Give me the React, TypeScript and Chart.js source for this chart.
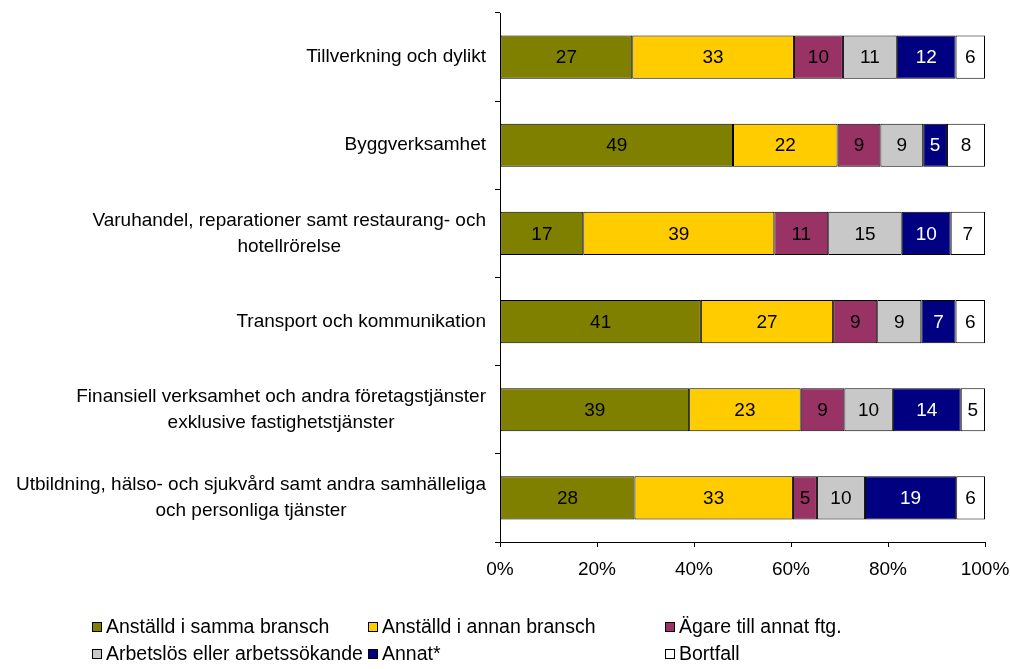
import React, { useEffect, useRef } from "react";
import { Chart, registerables } from "chart.js";

Chart.register(...registerables);

const FONT = "'Liberation Sans', Arial, sans-serif";

const categories: string[][] = [
  ["Tillverkning och dylikt"],
  ["Byggverksamhet"],
  ["Varuhandel, reparationer samt restaurang- och", "hotellrörelse"],
  ["Transport och kommunikation"],
  ["Finansiell verksamhet och andra företagstjänster", "exklusive fastighetstjänster"],
  ["Utbildning, hälso- och sjukvård samt andra samhälleliga", "och personliga tjänster"],
];

const seriesNames = [
  "Anställd i samma bransch",
  "Anställd i annan bransch",
  "Ägare till annat ftg.",
  "Arbetslös eller arbetssökande",
  "Annat*",
  "Bortfall",
];

const samma = [27, 49, 17, 41, 39, 28];
const annan = [33, 22, 39, 27, 23, 33];
const agare = [10, 9, 11, 9, 9, 5];
const arbetslos = [11, 9, 15, 9, 10, 10];
const annat = [12, 5, 10, 7, 14, 19];
const bortfall = [6, 8, 7, 6, 5, 6];

const seriesValues = [samma, annan, agare, arbetslos, annat, bortfall];
const seriesColors = ["#808000", "#FFCC00", "#993366", "#C8C8C8", "#000080", "#FFFFFF"];
const labelColors = ["#000", "#000", "#000", "#000", "#FFF", "#000"];

const xTickStep = 20;

const rowTotals = categories.map((_, i) => seriesValues.reduce((s, arr) => s + arr[i], 0));

const categoryLabelPlugin = {
  id: "categoryLabels",
  afterDraw(chart: any) {
    const ctx = chart.ctx;
    const y = chart.scales.y;
    const right = chart.chartArea.left - 14;
    ctx.save();
    ctx.font = `19px ${FONT}`;
    ctx.fillStyle = "#000";
    ctx.textAlign = "center";
    ctx.textBaseline = "middle";
    categories.forEach((lines, i) => {
      const cy = y.getPixelForValue(i);
      const maxW = Math.max(...lines.map((l) => ctx.measureText(l).width));
      const cx = right - maxW / 2;
      lines.forEach((line, j) => {
        ctx.fillText(line, cx, cy + (j - (lines.length - 1) / 2) * 26);
      });
    });
    ctx.restore();
  },
};

const valueLabelPlugin = {
  id: "valueLabels",
  afterDatasetsDraw(chart: any) {
    const ctx = chart.ctx;
    ctx.save();
    ctx.font = `19px ${FONT}`;
    ctx.textAlign = "center";
    ctx.textBaseline = "middle";
    chart.data.datasets.forEach((ds: any, di: number) => {
      const meta = chart.getDatasetMeta(di);
      meta.data.forEach((el: any, i: number) => {
        const raw = seriesValues[di][i];
        ctx.fillStyle = labelColors[di];
        ctx.fillText(String(raw), (el.x + el.base) / 2, el.y + 1);
      });
    });
    ctx.restore();
  },
};

const legendPlugin = {
  id: "customLegend",
  afterDraw(chart: any) {
    const ctx = chart.ctx;
    const cols = [92, 368, 665];
    const rows = [627, 654];
    ctx.save();
    ctx.font = `19.5px ${FONT}`;
    ctx.textAlign = "left";
    ctx.textBaseline = "middle";
    seriesNames.forEach((name, i) => {
      const x = cols[i % 3];
      const y = rows[Math.floor(i / 3)];
      ctx.fillStyle = seriesColors[i];
      ctx.fillRect(x, y - 5, 10, 10);
      ctx.strokeStyle = "#000";
      ctx.lineWidth = 1;
      ctx.strokeRect(x + 0.5, y - 4.5, 9, 9);
      ctx.fillStyle = "#000";
      ctx.fillText(name, x + 14, y + 1);
    });
    ctx.restore();
  },
};

export default function App() {
  const ref = useRef<HTMLCanvasElement | null>(null);
  useEffect(() => {
    if (!ref.current) return;
    const chart = new Chart(ref.current, {
      type: "bar",
      data: {
        labels: categories.map((c) => c.join(" ")),
        datasets: seriesNames.map((name, di) => ({
          label: name,
          data: seriesValues[di].map((v, i) => (v / rowTotals[i]) * 100),
          backgroundColor: seriesColors[di],
          borderColor: "#000",
          borderWidth: 1,
          borderSkipped: false,
          barPercentage: 0.49,
          categoryPercentage: 1,
        })),
      },
      options: {
        indexAxis: "y",
        animation: false,
        responsive: false,
        devicePixelRatio: 1,
        layout: { padding: { left: 0, top: 13, right: 25, bottom: 0 } },
        plugins: { legend: { display: false }, tooltip: { enabled: false } },
        scales: {
          x: {
            stacked: true,
            min: 0,
            max: 100,
            ticks: {
              stepSize: xTickStep,
              callback: (v: any) => `${v}%`,
              color: "#000",
              font: { family: FONT, size: 19 },
              padding: 11,
              maxRotation: 0,
            },
            grid: { drawOnChartArea: false, drawTicks: true, tickLength: 5, color: "#000" },
            border: { display: true, color: "#000", width: 1 },
            afterFit: (scale: any) => {
              scale.height = 127;
              scale.paddingLeft = 0;
              scale.paddingRight = 0;
            },
          },
          y: {
            stacked: true,
            ticks: { display: false },
            grid: { drawOnChartArea: false, drawTicks: true, tickLength: 5, color: "#000", offset: true },
            border: { display: true, color: "#000", width: 1 },
            afterFit: (scale: any) => {
              scale.width = 500;
              scale.paddingTop = 0;
              scale.paddingBottom = 0;
            },
          },
        },
      },
      plugins: [categoryLabelPlugin, valueLabelPlugin, legendPlugin],
    } as any);
    return () => chart.destroy();
  }, []);
  return (
    <div style={{ position: "absolute", left: 0, top: 0, width: 1010, height: 669, background: "#fff" }}>
      <canvas ref={ref} width={1010} height={669} style={{ display: "block" }} />
    </div>
  );
}
